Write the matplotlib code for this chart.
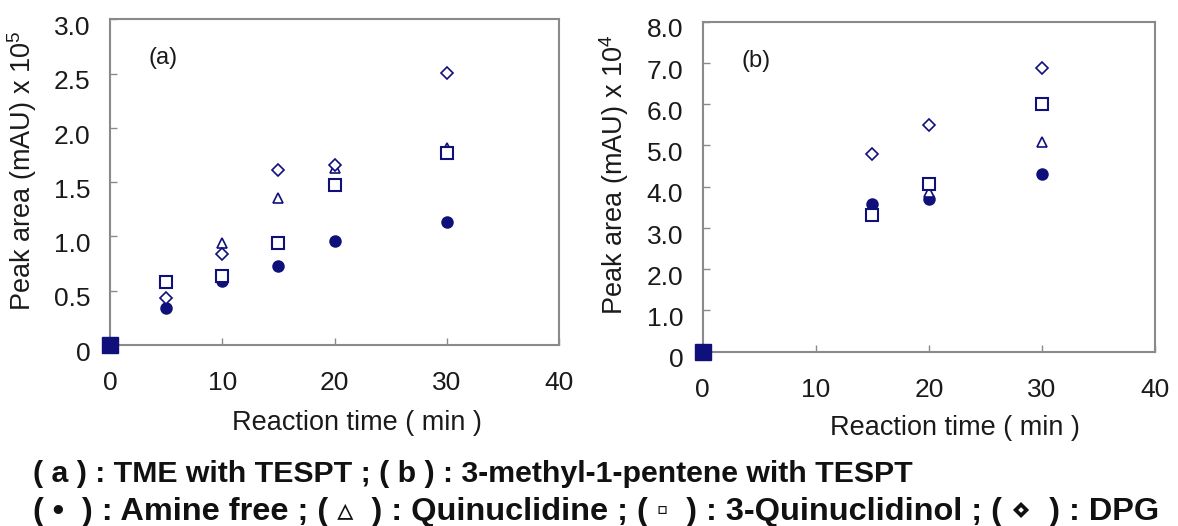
import matplotlib
matplotlib.use("Agg")
import matplotlib.pyplot as plt
import matplotlib.transforms as mtransforms

plt.rcParams['font.family'] = ['Liberation Sans', 'DejaVu Sans']

# reaction time (min)
time_a = [0, 5, 10, 15, 20, 30]
time_b = [0, 15, 20, 30]

# (a) TME with TESPT, peak area x 10^5
amine_free_a = [0, 0.34, 0.59, 0.73, 0.96, 1.13]
quinuclidine_a = [0, None, 0.94, 1.35, 1.63, 1.81]
quinuclidinol_a = [0, 0.58, 0.635, 0.94, 1.47, 1.77]
dpg_a = [0, 0.435, 0.84, 1.61, 1.66, 2.51]

# (b) 3-methyl-1-pentene with TESPT, peak area x 10^4
amine_free_b = [0, 3.58, 3.70, 4.30]
quinuclidine_b = [0, 3.42, 3.88, 5.09]
quinuclidinol_b = [0, 3.31, 4.06, 6.00]
dpg_b = [0, 4.79, 5.49, 6.87]

navy = '#10107a'
spine_gray = '#8a8a8a'
txt = '#1a1a1a'


def draw_panel(ax, t, series, ylim, yticks, yticklabels, ylabel, tag):
    styles = [
        dict(marker='o', ms=9, mfc=navy, mec=navy, mew=0),
        dict(marker='^', ms=7, mfc='white', mec=navy, mew=1.2),
        dict(marker='s', ms=8, mfc='white', mec=navy, mew=1.5),
        dict(marker='D', ms=6.3, mfc='white', mec=navy, mew=1.2),
    ]
    order = [1, 3, 2, 0]
    for k in order:
        ys = series[k]
        xs = [x for x, y in zip(t[1:], ys[1:]) if y is not None]
        yv = [y for y in ys[1:] if y is not None]
        ax.plot(xs, yv, ls='none', zorder=3 + k, **styles[k])
    # common starting point at the origin
    ax.plot([t[0]], [series[0][0]], ls='none', marker='s', ms=11,
            color=navy, clip_on=False, zorder=10)

    ax.set_xlim(0, 40)
    ax.set_ylim(*ylim)
    ax.set_xticks([0, 10, 20, 30, 40])
    ax.set_yticks(yticks)
    ax.set_yticklabels(yticklabels)
    for s in ax.spines.values():
        s.set_color(spine_gray)
        s.set_linewidth(1.5)
    ax.tick_params(axis='both', direction='in', color=spine_gray, length=5,
                   width=1, labelsize=19, labelcolor=txt)
    ax.tick_params(axis='x', pad=19)
    ax.tick_params(axis='y', pad=14)
    # y tick labels sit a little below their ticks in the original
    shift = mtransforms.ScaledTranslation(0, -4.5 / 72, ax.figure.dpi_scale_trans)
    for lab in ax.get_yticklabels():
        lab.set_transform(lab.get_transform() + shift)
    ax.set_xlabel('Reaction time ( min )', fontsize=19.5, color=txt)
    ax.set_ylabel(ylabel, fontsize=19.5, color=txt)
    ax.text(0.118, 0.88, tag, transform=ax.transAxes, fontsize=17,
            ha='center', va='center', color=txt)


fig = plt.figure(figsize=(11.78, 5.26), dpi=100)
ax_a = fig.add_axes([0.09338, 0.3441, 0.3814, 0.6192])
ax_b = fig.add_axes([0.59652, 0.33137, 0.38396, 0.6274])

draw_panel(ax_a, time_a, [amine_free_a, quinuclidine_a, quinuclidinol_a, dpg_a],
           (0, 3.0), [0, 0.5, 1.0, 1.5, 2.0, 2.5, 3.0],
           ['0', '0.5', '1.0', '1.5', '2.0', '2.5', '3.0'],
           r'Peak area (mAU) x 10$^{\mathregular{5}}$', '(a)')
draw_panel(ax_b, time_b, [amine_free_b, quinuclidine_b, quinuclidinol_b, dpg_b],
           (0, 8.0), [0, 1, 2, 3, 4, 5, 6, 7, 8],
           ['0', '1.0', '2.0', '3.0', '4.0', '5.0', '6.0', '7.0', '8.0'],
           r'Peak area (mAU) x 10$^{\mathregular{4}}$', '(b)')

ax_a.xaxis.set_label_coords(0.55, -0.2)
ax_a.yaxis.set_label_coords(-0.158, 0.536)
ax_b.xaxis.set_label_coords(0.558, -0.192)
ax_b.yaxis.set_label_coords(-0.158, 0.537)

fig.text(0.028, 0.0837, '( a ) : TME with TESPT ; ( b ) : 3-methyl-1-pentene with TESPT',
         fontsize=21.8, fontweight='bold', ha='left', va='baseline', color='#111111')
fig.text(0.028, 0.012, '( \u2022  ) : Amine free ; ( \u25b5  ) : Quinuclidine ; ( \u25ab  ) : 3-Quinuclidinol ; ( \u22c4  ) : DPG',
         fontsize=23.4, fontweight='bold', ha='left', va='baseline', color='#111111')

fig.savefig('out.png', dpi=100)
